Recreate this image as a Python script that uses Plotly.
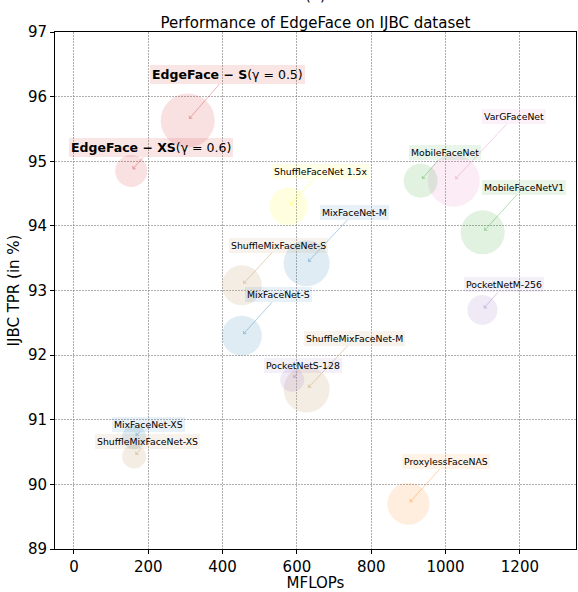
import plotly.graph_objects as go

# ---- data ----
models = ["EdgeFace-S", "EdgeFace-XS", "VarGFaceNet", "MobileFaceNet", "MobileFaceNetV1",
          "ShuffleFaceNet 1.5x", "MixFaceNet-M", "ShuffleMixFaceNet-S", "MixFaceNet-S",
          "ShuffleMixFaceNet-M", "PocketNetS-128", "MixFaceNet-XS", "ShuffleMixFaceNet-XS",
          "ProxylessFaceNAS", "PocketNetM-256"]
labels = ["<b>EdgeFace − S</b>(γ = 0.5)", "<b>EdgeFace − XS</b>(γ = 0.6)", "VarGFaceNet",
          "MobileFaceNet", "MobileFaceNetV1", "ShuffleFaceNet 1.5x", "MixFaceNet-M",
          "ShuffleMixFaceNet-S", "MixFaceNet-S", "ShuffleMixFaceNet-M", "PocketNetS-128",
          "MixFaceNet-XS", "ShuffleMixFaceNet-XS", "ProxylessFaceNAS", "PocketNetM-256"]
mflops = [306.1, 154.0, 1022.0, 933.0, 1100.0, 577.5, 626.1, 451.7, 451.7, 626.1,
          587.1, 161.9, 161.9, 900.0, 1099.2]
ijbc_tpr = [95.63, 94.85, 94.70, 94.70, 93.90, 94.30, 93.42, 93.08, 92.30, 91.47,
            91.62, 90.73, 90.43, 89.70, 92.70]
bubble_size = [54, 32, 52, 34, 44, 38, 46, 40, 40, 46, 24, 24, 24, 42, 30]
families = ["edge", "edge", "varg", "mobile", "mobile", "shuffle", "mix", "smix", "mix",
            "smix", "pocket", "mix", "smix", "proxy", "pocket"]
label_dx = [40, 20, 60, 24, 41, 32, 48, 37, 37, 48, 11, 14, 13, 38, 22]
label_dy = [-46, -23, -64, -28, -45, -35, -51, -40, -41, -51, -14, -13, -15, -42, -25]

family_rgb = {
    "edge": (214, 39, 40),
    "varg": (227, 119, 194),
    "mobile": (44, 160, 44),
    "shuffle": (255, 255, 0),
    "mix": (31, 119, 180),
    "smix": (210, 180, 140),
    "pocket": (148, 103, 189),
    "proxy": (255, 127, 14),
}
family_alpha = {"edge": 0.2, "varg": 0.2, "mobile": 0.2, "shuffle": 0.18, "mix": 0.2,
                "smix": 0.35, "pocket": 0.2, "proxy": 0.2}


def rgba(fam, scale=1.0):
    r, g, b = family_rgb[fam]
    return f"rgba({r},{g},{b},{min(family_alpha[fam] * scale, 1):.3f})"


fig = go.Figure()
fig.add_trace(go.Scatter(
    x=mflops, y=ijbc_tpr, mode="markers",
    marker=dict(size=bubble_size, sizemode="diameter",
                color=[rgba(f) for f in families], line=dict(width=0)),
    text=models, hoverinfo="text", showlegend=False,
))

for i in range(len(models)):
    fam = families[i]
    is_edge = fam == "edge"
    fig.add_annotation(
        x=mflops[i], y=ijbc_tpr[i], xref="x", yref="y",
        ax=label_dx[i], ay=label_dy[i], axref="pixel", ayref="pixel",
        text=labels[i], showarrow=True, arrowhead=1, arrowsize=0.9, arrowwidth=1,
        arrowcolor=rgba(fam, 1.7), standoff=2, startstandoff=0,
        font=dict(family="DejaVu Sans", size=12.5 if is_edge else 9.3, color="black"),
        bgcolor=rgba(fam, 0.6 if is_edge else 0.5), borderpad=2, borderwidth=0,
    )

# cut-off panel tag at the very top
fig.add_annotation(x=0.5, y=1, xref="paper", yref="paper", yshift=26, yanchor="bottom",
                   text="(a)", showarrow=False,
                   font=dict(family="DejaVu Sans", size=15, color="black"))

axis_common = dict(
    showline=True, linecolor="black", linewidth=1, mirror=True, automargin=False,
    ticks="outside", ticklen=4, tickcolor="black",
    showgrid=True, gridcolor="rgba(120,120,120,0.6)", gridwidth=1, griddash="2px,1px",
    zeroline=False, tickfont=dict(family="DejaVu Sans", size=15, color="black"),
)

fig.update_layout(
    width=578, height=592,
    margin=dict(l=55, r=2, t=32, b=43, autoexpand=False),
    paper_bgcolor="white", plot_bgcolor="white",
    font=dict(family="DejaVu Sans", color="black"),
    title=dict(text="Performance of EdgeFace on IJBC dataset", x=0.5, xref="paper",
               y=1, yref="paper", yanchor="bottom", pad=dict(b=4), automargin=False,
               font=dict(family="DejaVu Sans", size=15, color="black")),
    xaxis=dict(range=[-51, 1351], tickvals=[0, 200, 400, 600, 800, 1000, 1200],
               title=dict(text="MFLOPs", standoff=0,
                          font=dict(family="DejaVu Sans", size=15, color="black")),
               **axis_common),
    yaxis=dict(range=[89, 97], tickvals=list(range(89, 98)),
               title=dict(text="IJBC TPR (in %)", standoff=4,
                          font=dict(family="DejaVu Sans", size=15, color="black")),
               **axis_common),
)

fig.write_html("out.html", config={"displayModeBar": False},
               post_script="document.body.style.margin='0';document.body.style.padding='0';")
